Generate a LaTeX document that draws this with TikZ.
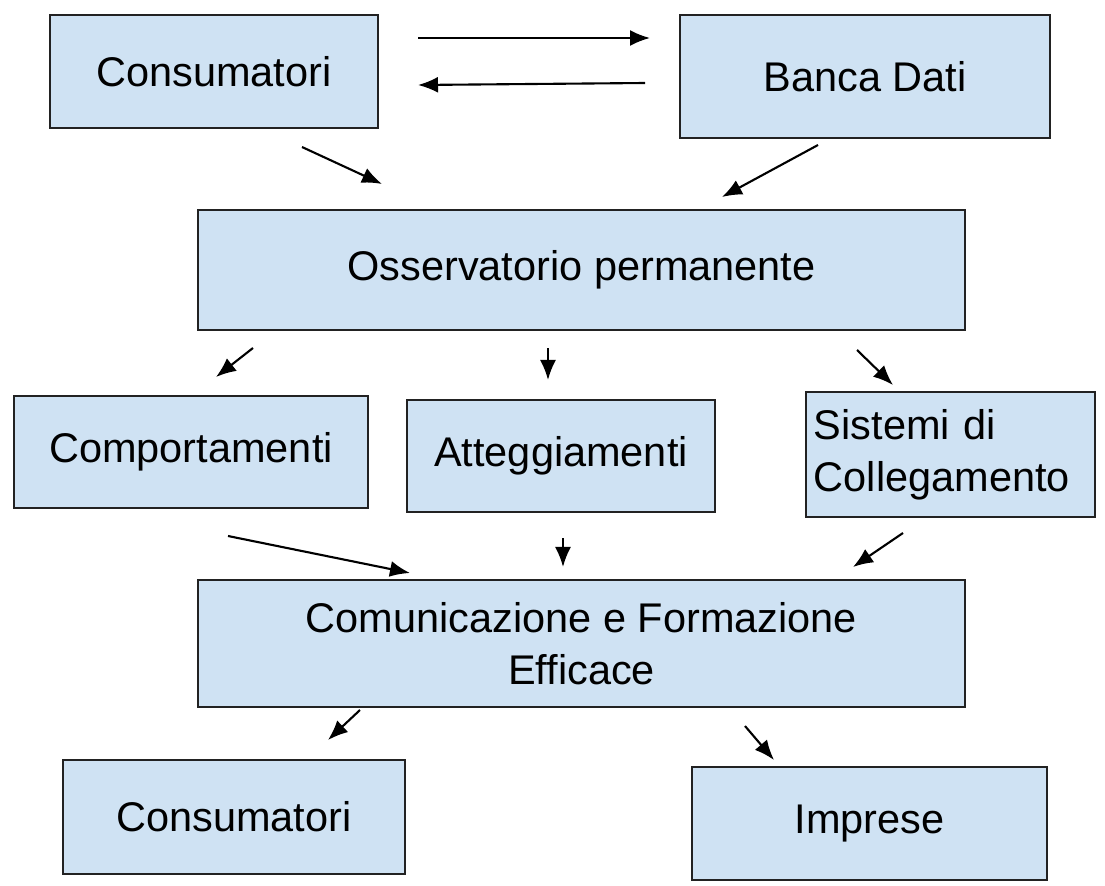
\documentclass[tikz,border=0pt]{standalone}
\usepackage{fontspec}
\setmainfont{Liberation Sans}
\usepackage{xcolor}
\definecolor{boxblue}{HTML}{CFE2F3}
\definecolor{boxline}{HTML}{222222}
\usepackage{tikz}
\usetikzlibrary{arrows.meta, positioning}

\begin{document}
\begin{tikzpicture}[x=0.025cm, y=-0.025cm,
    blk/.style={draw=boxline, fill=boxblue, line width=1.5pt,
                inner sep=0pt, align=center,
                font=\fontsize{29.5}{37}\selectfont},
    arr/.style={-{Latex[length=0.5cm, width=0.4cm]}, line width=1.5pt}]
    \useasboundingbox (0,0) rectangle (1105,886);
    % riquadri
    \node[blk, minimum width=8.2cm, minimum height=2.825cm] (cons) at (214,71.5) {Consumatori};
    \node[blk, minimum width=9.25cm, minimum height=3.075cm] (banca) at (865,76.5) {Banca Dati};
    \node[blk, minimum width=19.175cm, minimum height=3cm] (oss) at (581.5,270) {Osservatorio permanente};
    \node[blk, minimum width=8.85cm, minimum height=2.8cm] (comp) at (191,452) {Comportamenti};
    \node[blk, minimum width=7.7cm, minimum height=2.8cm] (att) at (561,456) {Atteggiamenti};
    \node[blk, text width=6.825cm, inner xsep=0.2cm, align=left, minimum height=3.125cm] (sist) at (950.5,454.5) {Sistemi di\\Collegamento};
    \node[blk, minimum width=19.175cm, minimum height=3.175cm] (com) at (581.5,643.5) {Comunicazione e Formazione\\Efficace};
    \node[blk, minimum width=8.55cm, minimum height=2.85cm] (cons2) at (234,817) {Consumatori};
    \node[blk, minimum width=8.875cm, minimum height=2.825cm] (imp) at (869.5,823.5) {Imprese};
    % estremi delle frecce
    \coordinate (cb1) at (418,38);  \coordinate (cb2) at (650,38);
    \coordinate (bc1) at (645,83);  \coordinate (bc2) at (418,85);
    \coordinate (co1) at (302,147); \coordinate (co2) at (382,184);
    \coordinate (bo1) at (818,145); \coordinate (bo2) at (722,197);
    \coordinate (op1) at (253,348); \coordinate (op2) at (216,377);
    \coordinate (oa1) at (548,348); \coordinate (oa2) at (548,380);
    \coordinate (os1) at (857,350); \coordinate (os2) at (893,385);
    \coordinate (pc1) at (228,536); \coordinate (pc2) at (410,573);
    \coordinate (ac1) at (563,538); \coordinate (ac2) at (563,567);
    \coordinate (sc1) at (903,533); \coordinate (sc2) at (853,567);
    \coordinate (ck1) at (360,710); \coordinate (ck2) at (328,740);
    \coordinate (ci1) at (745,726); \coordinate (ci2) at (774,760);
    \draw[arr] (cb1) -- (cb2);
    \draw[arr] (bc1) -- (bc2);
    \draw[arr] (co1) -- (co2);
    \draw[arr] (bo1) -- (bo2);
    \draw[arr] (op1) -- (op2);
    \draw[arr] (oa1) -- (oa2);
    \draw[arr] (os1) -- (os2);
    \draw[arr] (pc1) -- (pc2);
    \draw[arr] (ac1) -- (ac2);
    \draw[arr] (sc1) -- (sc2);
    \draw[arr] (ck1) -- (ck2);
    \draw[arr] (ci1) -- (ci2);
\end{tikzpicture}
\end{document}
